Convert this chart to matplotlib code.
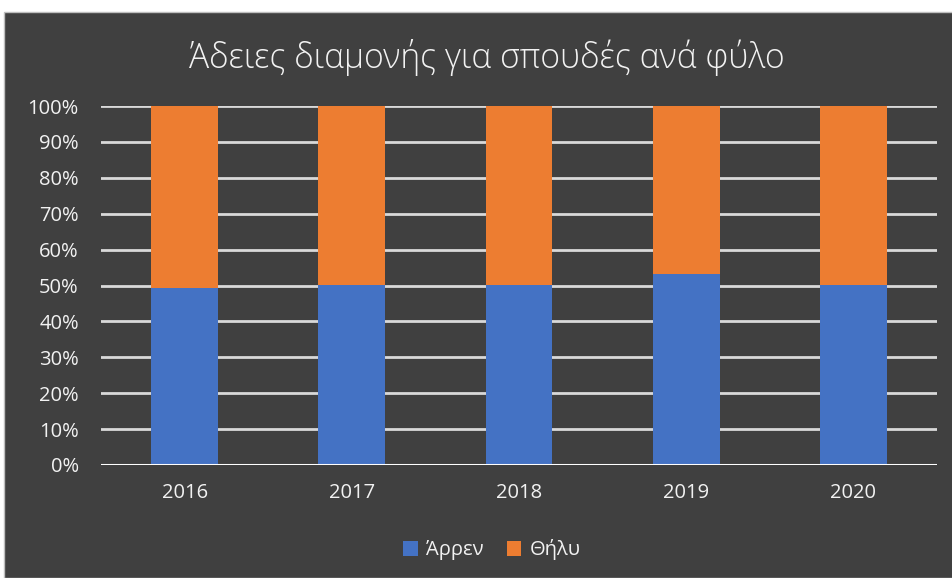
import matplotlib
matplotlib.use("Agg")
import matplotlib.pyplot as plt
from matplotlib.patches import Rectangle
from matplotlib.ticker import PercentFormatter
import numpy as np

plt.rcParams['font.family'] = ['Open Sans', 'DejaVu Sans']

years = ["2016", "2017", "2018", "2019", "2020"]
male = [49.4, 50.1, 50.1, 53.2, 50.1]
female = [100 - m for m in male]
series_names = ["Άρρεν", "Θήλυ"]
title = "Άδειες διαμονής για σπουδές ανά φύλο"

BG = "#404040"
BLUE = "#4472C4"
ORANGE = "#ED7D31"
TXT = "#F2F2F2"

fig = plt.figure(figsize=(9.53, 5.78), dpi=100, facecolor="white")
W, H = 953, 578
fig.patches.append(Rectangle((4 / W, 0), (W - 4) / W, (H - 12) / H, transform=fig.transFigure,
                             facecolor=BG, edgecolor="#BFBFBF", linewidth=1, zorder=-10))

ax = fig.add_axes([101 / W, 1 - 465 / H, (937 - 101) / W, (465 - 106) / H])
ax.set_zorder(1)
ax.set_facecolor("none")
x = np.arange(len(years))
ax.bar(x, male, width=0.4, color=BLUE, zorder=3, label=series_names[0])
ax.bar(x, female, width=0.4, bottom=male, color=ORANGE, zorder=3, label=series_names[1])

ax.set_xlim(-0.5, len(years) - 0.5)
ax.set_ylim(0, 100)
ax.set_yticks(np.arange(0, 101, 10))
ax.yaxis.set_major_formatter(PercentFormatter(decimals=0))
ax.set_xticks(x)
ax.set_xticklabels(years)
ax.grid(axis="y", color="#D9D9D9", linewidth=2, zorder=1)
ax.axhline(0, color="#FFFFFF", linewidth=2.2, zorder=4)
for s in ax.spines.values():
    s.set_visible(False)
ax.tick_params(axis="both", length=0, colors=TXT, labelsize=14.5)
ax.tick_params(axis="y", pad=16)
ax.tick_params(axis="x", pad=13)

fig.text(487 / W, 1 - 58 / H, title, ha="center", va="center", color=TXT, fontsize=24.2, fontweight="light")

leg = fig.legend(loc="center", bbox_to_anchor=(492 / W, 1 - 550 / H), ncol=2, frameon=False,
                 fontsize=14.5, handlelength=0.7, handleheight=0.7, handletextpad=0.4, columnspacing=1.2)
for t in leg.get_texts():
    t.set_color(TXT)

fig.savefig("out.png", dpi=100, facecolor="white")
